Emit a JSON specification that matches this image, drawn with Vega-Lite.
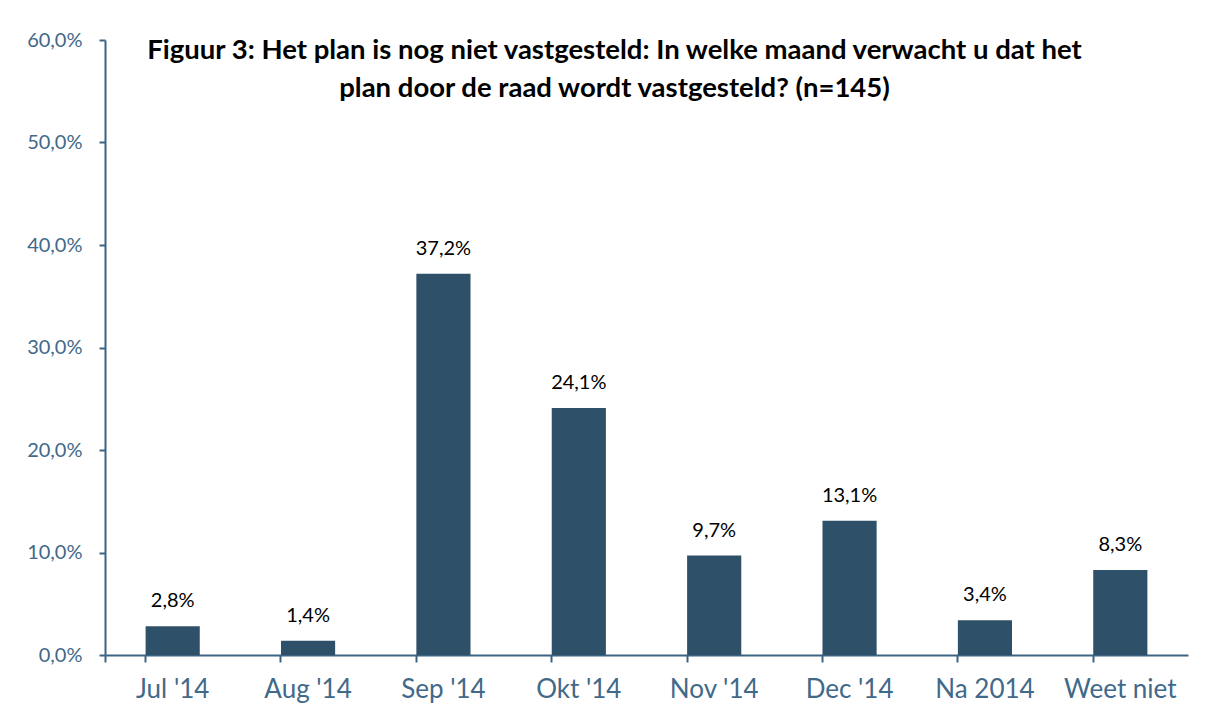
{
  "$schema": "https://vega.github.io/schema/vega-lite/v6.json",
  "autosize": "none",
  "width": 1083,
  "height": 615,
  "padding": {"left": 105, "top": 40, "right": 18, "bottom": 65},
  "background": "white",
  "config": {
    "locale": {"number": {"decimal": ",", "thousands": ".", "grouping": [3], "currency": ["€", ""]}},
    "view": {"stroke": null},
    "font": "Lato"
  },
  "title": {
    "text": ["Figuur 3: Het plan is nog niet vastgesteld: In welke maand verwacht u dat het", "plan door de raad wordt vastgesteld? (n=145)"],
    "anchor": "middle",
    "orient": "top",
    "baseline": "top",
    "offset": 0,
    "dx": -32,
    "dy": 72,
    "fontSize": 27.5,
    "fontWeight": "bold",
    "font": "Lato",
    "color": "#000000",
    "lineHeight": 38
  },
  "data": {
    "values": [
      {"maand": "Jul '14", "pct": 0.028},
      {"maand": "Aug '14", "pct": 0.014},
      {"maand": "Sep '14", "pct": 0.372},
      {"maand": "Okt '14", "pct": 0.241},
      {"maand": "Nov '14", "pct": 0.097},
      {"maand": "Dec '14", "pct": 0.131},
      {"maand": "Na 2014", "pct": 0.034},
      {"maand": "Weet niet", "pct": 0.083}
    ]
  },
  "encoding": {
    "x": {
      "field": "maand",
      "type": "nominal",
      "sort": null,
      "scale": {"paddingInner": 0.6, "paddingOuter": 0.3},
      "axis": {
        "title": null,
        "labelAngle": 0,
        "labelFontSize": 26,
        "labelColor": "#41698A",
        "labelPadding": 14,
        "tickSize": 7,
        "tickColor": "#3C6482",
        "domainColor": "#3C6482",
        "domainWidth": 2,
        "tickWidth": 2,
        "bandPosition": 0,
        "tickExtra": true,
        "grid": false
      }
    },
    "y": {
      "field": "pct",
      "type": "quantitative",
      "scale": {"domain": [0, 0.6], "nice": false},
      "axis": {
        "title": null,
        "format": ".1%",
        "values": [0, 0.1, 0.2, 0.3, 0.4, 0.5, 0.6],
        "labelFontSize": 20,
        "labelColor": "#41698A",
        "labelPadding": 17,
        "tickSize": 6,
        "tickColor": "#3C6482",
        "domainColor": "#3C6482",
        "domainWidth": 2,
        "tickWidth": 2,
        "grid": false
      }
    }
  },
  "layer": [
    {"mark": {"type": "bar", "color": "#2E5069"}},
    {
      "mark": {"type": "text", "baseline": "bottom", "dy": -15, "fontSize": 20, "color": "#000000", "font": "Lato"},
      "encoding": {"text": {"field": "pct", "type": "quantitative", "format": ".1%"}}
    }
  ]
}
